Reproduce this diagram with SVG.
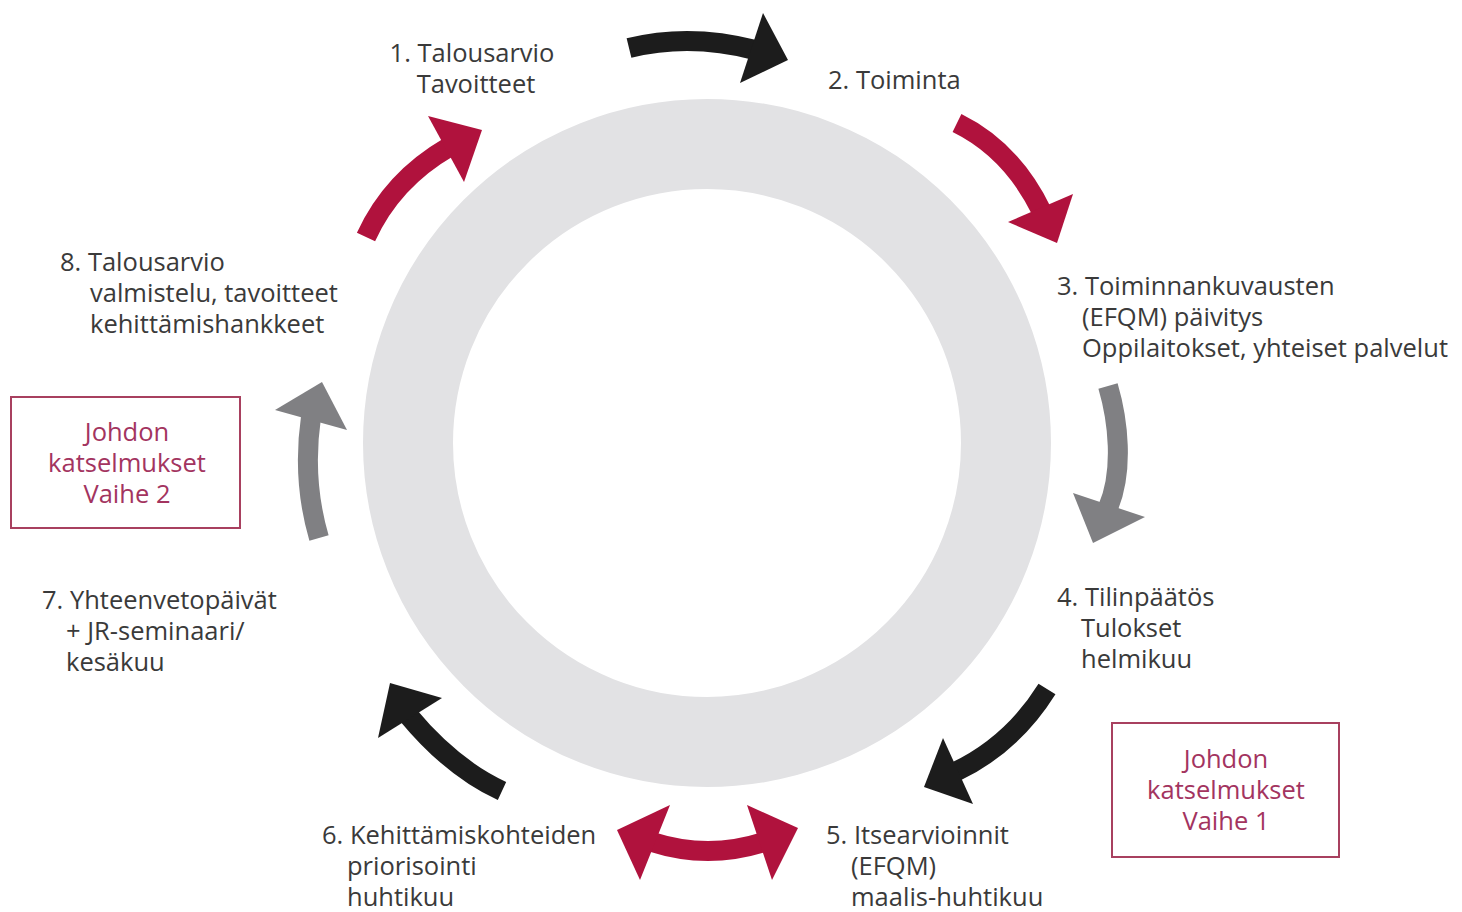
<svg xmlns="http://www.w3.org/2000/svg" width="1462" height="912" viewBox="0 0 1462 912">
  <style>
    .lbl { font-family: "Open Sans", "Noto Sans", "Liberation Sans", sans-serif; font-size: 25.5px; fill: #3a3a3a; }
    .box { fill: #ffffff; stroke: #a8405f; stroke-width: 2; }
    .boxtxt { font-family: "Open Sans", "Noto Sans", "Liberation Sans", sans-serif; font-size: 25.5px; fill: #a3345f; text-anchor: middle; }
    .shaft { fill: none; stroke-width: 20; stroke-linecap: butt; }
    .red { stroke: #b0123d; }
    .redf { fill: #b0123d; }
    .blk { stroke: #1c1c1c; }
    .blkf { fill: #1c1c1c; }
    .gry { stroke: #808083; }
    .gryf { fill: #808083; }
  </style>
  <rect width="1462" height="912" fill="#ffffff"/>

  <g id="ring">
    <circle cx="707" cy="443" r="299" fill="none" stroke="#e2e2e4" stroke-width="90"/>
  </g>

  <g id="connectors">
    <g id="arrow-1-2">
      <path class="shaft blk" d="M629,48 Q690,33 755,50"/>
      <polygon class="blkf" points="763,13 788,60 740,83"/>
    </g>
    <g id="arrow-2-3">
      <path class="shaft red" d="M957,123 Q1012,150 1042,212"/>
      <polygon class="redf" points="1008,222 1057,243 1073,194"/>
    </g>
    <g id="arrow-3-4">
      <path class="shaft gry" d="M1108,386 C1118,420 1124,470 1108,508"/>
      <polygon class="gryf" points="1073,493 1093,543 1145,517"/>
    </g>
    <g id="arrow-4-5">
      <path class="shaft blk" d="M1047,689 Q1012,745 955,772"/>
      <polygon class="blkf" points="943,738 924,787 973,804"/>
    </g>
    <g id="arrow-5-6">
      <path class="shaft red" d="M652,842 Q708,860 764,842"/>
      <polygon class="redf" points="670,805 617,830 640,880"/>
      <polygon class="redf" points="747,805 798,828 772,880"/>
    </g>
    <g id="arrow-6-7">
      <path class="shaft blk" d="M502,791 Q452,768 408,715"/>
      <polygon class="blkf" points="378,738 390,683 442,698"/>
    </g>
    <g id="arrow-7-8">
      <path class="shaft gry" d="M319,538 Q302,480 311,417"/>
      <polygon class="gryf" points="275,410 322,382 347,430"/>
    </g>
    <g id="arrow-8-1">
      <path class="shaft red" d="M366,237 Q392,180 449,147"/>
      <polygon class="redf" points="428,116 482,130 464,182"/>
    </g>
  </g>

  <g id="node-1">
    <text class="lbl" text-anchor="middle"><tspan x="472" y="62">1. Talousarvio</tspan><tspan x="476" y="93">Tavoitteet</tspan></text>
  </g>
  <g id="node-2">
    <text class="lbl" x="828" y="89">2. Toiminta</text>
  </g>
  <g id="node-3">
    <text class="lbl"><tspan x="1057" y="295">3. Toiminnankuvausten</tspan><tspan x="1082" y="326">(EFQM) päivitys</tspan><tspan x="1082" y="357">Oppilaitokset, yhteiset palvelut</tspan></text>
  </g>
  <g id="node-4">
    <text class="lbl"><tspan x="1057" y="606">4. Tilinpäätös</tspan><tspan x="1081" y="637">Tulokset</tspan><tspan x="1081" y="668">helmikuu</tspan></text>
  </g>
  <g id="node-5">
    <text class="lbl"><tspan x="826" y="844">5. Itsearvioinnit</tspan><tspan x="851" y="875">(EFQM)</tspan><tspan x="851" y="906">maalis-huhtikuu</tspan></text>
  </g>
  <g id="node-6">
    <text class="lbl"><tspan x="322" y="844">6. Kehittämiskohteiden</tspan><tspan x="347" y="875">priorisointi</tspan><tspan x="347" y="906">huhtikuu</tspan></text>
  </g>
  <g id="node-7">
    <text class="lbl"><tspan x="42" y="609">7. Yhteenvetopäivät</tspan><tspan x="66" y="640">+ JR-seminaari/</tspan><tspan x="66" y="671">kesäkuu</tspan></text>
  </g>
  <g id="node-8">
    <text class="lbl"><tspan x="60" y="271">8. Talousarvio</tspan><tspan x="90" y="302">valmistelu, tavoitteet</tspan><tspan x="90" y="333">kehittämishankkeet</tspan></text>
  </g>

  <g id="box-vaihe-2">
    <rect class="box" x="11" y="397" width="229" height="131"/>
    <text class="boxtxt"><tspan x="127" y="441">Johdon</tspan><tspan x="127" y="472">katselmukset</tspan><tspan x="127" y="503">Vaihe 2</tspan></text>
  </g>
  <g id="box-vaihe-1">
    <rect class="box" x="1112" y="723" width="227" height="134"/>
    <text class="boxtxt"><tspan x="1226" y="768">Johdon</tspan><tspan x="1226" y="799">katselmukset</tspan><tspan x="1226" y="830">Vaihe 1</tspan></text>
  </g>
</svg>
